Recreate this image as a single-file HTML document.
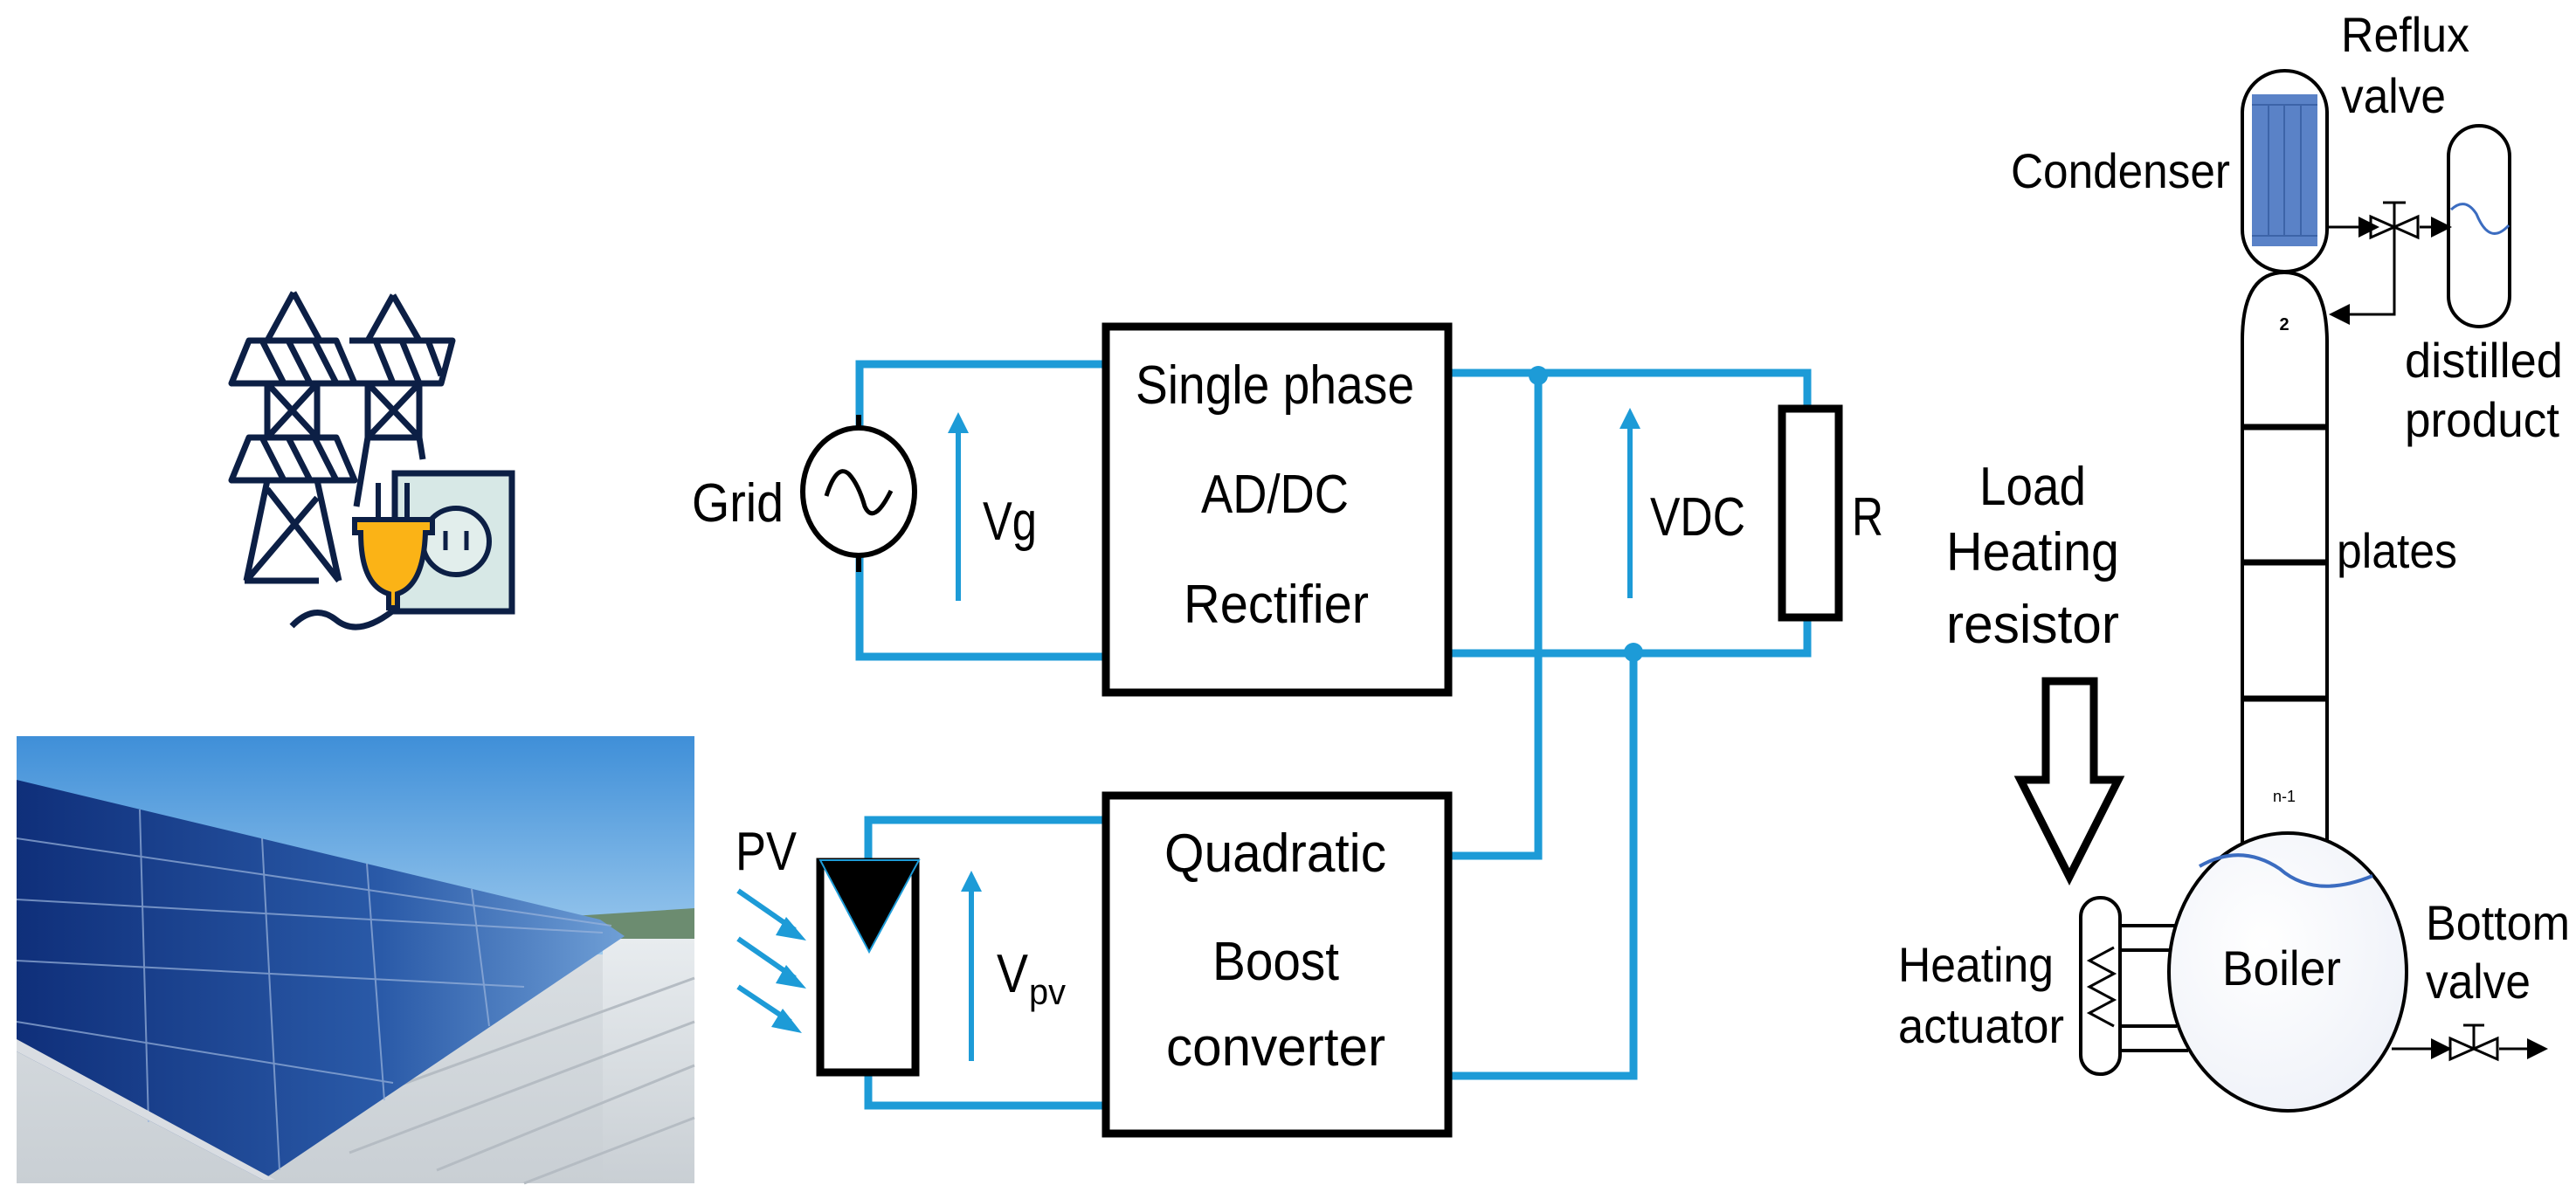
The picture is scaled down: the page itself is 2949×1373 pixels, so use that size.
<!DOCTYPE html>
<html><head><meta charset="utf-8"><style>
html,body{margin:0;padding:0;background:#fff}
svg{display:block}
text{font-family:"Liberation Sans",sans-serif;fill:#000}
</style></head><body>
<svg width="2949" height="1373" viewBox="0 0 2949 1373" xmlns="http://www.w3.org/2000/svg">
<defs>
<linearGradient id="sky" x1="0" y1="0" x2="0" y2="1"><stop offset="0" stop-color="#3f8fd8"/><stop offset="1" stop-color="#9fcbee"/></linearGradient>
<linearGradient id="pan" x1="0" y1="0" x2="1" y2="0"><stop offset="0" stop-color="#0f2f7a"/><stop offset="0.6" stop-color="#2a5aa8"/><stop offset="1" stop-color="#6f9fd6"/></linearGradient>
<linearGradient id="roof" x1="0" y1="0" x2="0" y2="1"><stop offset="0" stop-color="#e8ecef"/><stop offset="1" stop-color="#c9cfd4"/></linearGradient>
<radialGradient id="boil" cx="0.4" cy="0.4" r="0.7"><stop offset="0" stop-color="#ffffff"/><stop offset="1" stop-color="#eef1f8"/></radialGradient>
<marker id="ah" markerWidth="8" markerHeight="8" refX="4" refY="4" orient="auto"><path d="M0,0 L8,4 L0,8z" fill="#000"/></marker>
</defs>

<!-- solar photo -->
<rect x="19" y="843" width="776" height="512" fill="url(#roof)"/>
<rect x="19" y="843" width="776" height="250" fill="url(#sky)"/>
<polygon points="640,1050 795,1040 795,1075 700,1075" fill="#6c8c70"/>
<rect x="690" y="1075" width="105" height="280" fill="url(#roof)"/>
<g stroke="#b5bcc3" stroke-width="3">
<line x1="300" y1="1300" x2="795" y2="1120"/><line x1="400" y1="1320" x2="795" y2="1170"/><line x1="500" y1="1340" x2="795" y2="1220"/><line x1="600" y1="1355" x2="795" y2="1280"/>
</g>
<polygon points="19,893 687,1053 715,1072 301,1351 19,1204" fill="url(#pan)"/>
<g stroke="#9ab4dc" stroke-width="2" opacity="0.7">
<line x1="160" y1="927" x2="170" y2="1285"/><line x1="300" y1="960" x2="320" y2="1340"/>
<line x1="420" y1="989" x2="440" y2="1260"/><line x1="540" y1="1018" x2="560" y2="1175"/>
<line x1="19" y1="960" x2="700" y2="1060"/><line x1="19" y1="1030" x2="690" y2="1068"/><line x1="19" y1="1100" x2="600" y2="1130"/><line x1="19" y1="1170" x2="450" y2="1240"/>
</g>
<polygon points="19,1204 301,1351 315,1351 19,1190" fill="#d9dde2"/>

<!-- pylon icon -->
<g stroke="#0c1f45" stroke-width="7" fill="none" stroke-linejoin="round">
<path d="M336,335 L306,390 M336,335 L366,390"/>
<path d="M265,439 L406,439 L385,390 L285,390 Z M300,390 L325,439 M330,390 L355,439 M360,390 L385,439"/>
<path d="M306,439 L306,501 L363,501 L363,439 M306,439 L363,501 M363,439 L306,501"/>
<path d="M265,550 L406,550 L385,501 L285,501 Z M300,501 L325,550 M330,501 L355,550 M360,501 L385,550"/>
<path d="M306,550 L282,665 M363,550 L388,665 M282,665 L363,570 M306,560 L388,665 M280,665 L365,665"/>
<path d="M450,338 L421,390 M450,338 L480,390"/>
<path d="M400,390 L518,390 L505,439 L405,439 M430,390 L450,439 M460,390 L480,439 M490,390 L505,430"/>
<path d="M421,439 L421,501 L480,501 L480,439 M421,439 L480,501 M480,439 L421,501 M421,501 L408,580 M480,501 L484,526"/>
<path d="M334,717 Q360,690 385,710 Q410,730 449,700"/>
</g>
<rect x="452" y="542" width="134" height="158" fill="#d7e8e6" stroke="#0c1f45" stroke-width="7"/>
<circle cx="522" cy="620" r="38" fill="#e2eeec" stroke="#0c1f45" stroke-width="6"/>
<line x1="510" y1="608" x2="510" y2="630" stroke="#0c1f45" stroke-width="5"/><line x1="534" y1="608" x2="534" y2="630" stroke="#0c1f45" stroke-width="5"/>
<path d="M406,595 L495,595 L495,610 L487,610 Q485,670 455,680 L455,696 L445,696 L445,680 Q413,670 413,610 L406,610 Z" fill="#fbb316" stroke="#0c1f45" stroke-width="6"/>
<line x1="433" y1="553" x2="433" y2="595" stroke="#0c1f45" stroke-width="6"/><line x1="466" y1="553" x2="466" y2="595" stroke="#0c1f45" stroke-width="6"/>

<!-- blue wires -->
<g stroke="#1d9bd7" stroke-width="9" fill="none">
<path d="M984,490 L984,417 L1262,417"/>
<path d="M984,636 L984,752 L1262,752"/>
<path d="M1662,427 L2069,427 L2069,470"/>
<path d="M1662,748 L2069,748 L2069,705"/>
<path d="M1761,427 L1761,980 L1662,980"/>
<path d="M1870,748 L1870,1232 L1662,1232"/>
<path d="M994,985 L994,939 L1262,939"/>
<path d="M994,1230 L994,1266 L1262,1266"/>
</g>
<circle cx="1761" cy="430" r="11" fill="#1d9bd7"/>
<circle cx="1870" cy="747" r="11" fill="#1d9bd7"/>
<g stroke="#1d9bd7" stroke-width="6"><line x1="1097" y1="688" x2="1097" y2="490"/><line x1="1866" y1="685" x2="1866" y2="485"/><line x1="1112" y1="1215" x2="1112" y2="1015"/></g>
<g fill="#1d9bd7"><path d="M1085,496 L1097,472 L1109,496Z"/><path d="M1854,491 L1866,467 L1878,491Z"/><path d="M1100,1021 L1112,997 L1124,1021Z"/></g>
<g stroke="#1d9bd7" stroke-width="6"><line x1="845" y1="1020" x2="910" y2="1065"/><line x1="845" y1="1075" x2="910" y2="1120"/><line x1="845" y1="1130" x2="905" y2="1170"/></g>
<g fill="#1d9bd7"><path d="M900,1050 L923,1077 L888,1071Z"/><path d="M900,1105 L923,1132 L888,1126Z"/><path d="M896,1155 L918,1183 L883,1176Z"/></g>

<!-- grid source -->
<line x1="983" y1="475" x2="983" y2="655" stroke="#000" stroke-width="6"/>
<ellipse cx="983" cy="563" rx="64" ry="73" fill="#fff" stroke="#000" stroke-width="6"/>
<path d="M946,568 Q958,530 972,543 Q983,555 990,580 Q1000,602 1020,562" stroke="#000" stroke-width="5" fill="none"/>

<!-- boxes -->
<rect x="1266" y="374" width="392" height="419" fill="#fff" stroke="#000" stroke-width="9"/>
<rect x="1266" y="911" width="392" height="387" fill="#fff" stroke="#000" stroke-width="9"/>
<rect x="2040" y="468" width="65" height="239" fill="#fff" stroke="#000" stroke-width="9"/>
<rect x="939" y="987" width="109" height="241" fill="#fff" stroke="#000" stroke-width="9"/>
<path d="M939,985 L1052,985 L995,1090 Z" fill="#000" stroke="#1d9bd7" stroke-width="2"/>

<!-- text circuit -->
<g font-size="62">
<text x="792" y="597" textLength="105" lengthAdjust="spacingAndGlyphs">Grid</text>
<text x="1125" y="618" textLength="62" lengthAdjust="spacingAndGlyphs">Vg</text>
<text x="1300" y="462" textLength="319" lengthAdjust="spacingAndGlyphs">Single phase</text>
<text x="1375" y="587" textLength="169" lengthAdjust="spacingAndGlyphs">AD/DC</text>
<text x="1355" y="713" textLength="212" lengthAdjust="spacingAndGlyphs">Rectifier</text>
<text x="1889" y="613" textLength="109" lengthAdjust="spacingAndGlyphs">VDC</text>
<text x="2120" y="613" textLength="36" lengthAdjust="spacingAndGlyphs">R</text>
<text x="842" y="996" textLength="70" lengthAdjust="spacingAndGlyphs">PV</text>
<text x="1141" y="1136" textLength="36" lengthAdjust="spacingAndGlyphs">V</text>
<text x="1178" y="1150" font-size="42" textLength="42" lengthAdjust="spacingAndGlyphs">pv</text>
<text x="1333" y="998" textLength="254" lengthAdjust="spacingAndGlyphs">Quadratic</text>
<text x="1388" y="1122" textLength="145" lengthAdjust="spacingAndGlyphs">Boost</text>
<text x="1335" y="1220" textLength="251" lengthAdjust="spacingAndGlyphs">converter</text>
<text x="2266" y="578" textLength="122" lengthAdjust="spacingAndGlyphs">Load</text>
<text x="2228" y="653" textLength="198" lengthAdjust="spacingAndGlyphs">Heating</text>
<text x="2228" y="736" textLength="198" lengthAdjust="spacingAndGlyphs">resistor</text>
</g>
<g font-size="56">
<text x="2680" y="59" textLength="147" lengthAdjust="spacingAndGlyphs">Reflux</text>
<text x="2680" y="129" textLength="120" lengthAdjust="spacingAndGlyphs">valve</text>
<text x="2302" y="215" textLength="251" lengthAdjust="spacingAndGlyphs">Condenser</text>
<text x="2753" y="432" textLength="181" lengthAdjust="spacingAndGlyphs">distilled</text>
<text x="2753" y="500" textLength="177" lengthAdjust="spacingAndGlyphs">product</text>
<text x="2675" y="650" textLength="138" lengthAdjust="spacingAndGlyphs">plates</text>
<text x="2173" y="1124" textLength="178" lengthAdjust="spacingAndGlyphs">Heating</text>
<text x="2173" y="1194" textLength="190" lengthAdjust="spacingAndGlyphs">actuator</text>
<text x="2777" y="1076" textLength="165" lengthAdjust="spacingAndGlyphs">Bottom</text>
<text x="2777" y="1143" textLength="120" lengthAdjust="spacingAndGlyphs">valve</text>
</g>
<!-- hollow arrow -->
<path d="M2342,780 L2397,780 L2397,893 L2425,893 L2369,1004 L2313,893 L2342,893 Z" fill="#fff" stroke="#000" stroke-width="9" stroke-linejoin="miter"/>
<!-- column -->
<g stroke="#000" stroke-width="4" fill="none">
<path d="M2567,965 L2567,390 Q2567,312 2615,312 Q2663,312 2664,390 L2664,965"/>
<rect x="2567" y="81" width="97" height="230" rx="48" ry="48" fill="#fff"/>
<rect x="2803" y="144" width="70" height="230" rx="35" ry="35" fill="#fff"/>
</g>
<rect x="2578" y="108" width="75" height="174" fill="#5a82c7"/>
<g stroke="#3d64a8" stroke-width="2"><line x1="2578" y1="120" x2="2653" y2="120"/><line x1="2578" y1="270" x2="2653" y2="270"/><line x1="2597" y1="120" x2="2597" y2="270"/><line x1="2615" y1="120" x2="2615" y2="270"/><line x1="2634" y1="120" x2="2634" y2="270"/></g>
<path d="M2806,240 Q2822,225 2835,245 Q2850,282 2872,258" stroke="#3b6cc0" stroke-width="3" fill="none"/>
<g stroke="#000" stroke-width="7"><line x1="2565" y1="489" x2="2666" y2="489"/><line x1="2565" y1="644" x2="2666" y2="644"/><line x1="2565" y1="800" x2="2666" y2="800"/></g>
<text x="2615" y="378" font-size="20" font-weight="bold" text-anchor="middle">2</text>
<text x="2615" y="918" font-size="18" text-anchor="middle">n-1</text>
<g stroke="#000" stroke-width="3" fill="none">
<line x1="2664" y1="260" x2="2712" y2="260" marker-end="url(#ah)"/>
<path d="M2714,248 L2714,272 L2741,260 Z M2768,248 L2768,272 L2741,260 Z"/>
<line x1="2741" y1="260" x2="2741" y2="233"/><line x1="2728" y1="232" x2="2754" y2="232"/>
<line x1="2770" y1="260" x2="2795" y2="260" marker-end="url(#ah)"/>
<path d="M2741,260 L2741,360 L2678,360" marker-end="url(#ah)"/>
</g>
<!-- boiler -->
<g stroke="#000" stroke-width="4" fill="none">
<line x1="2427" y1="1060" x2="2495" y2="1060"/><line x1="2427" y1="1088" x2="2490" y2="1088"/><line x1="2427" y1="1175" x2="2492" y2="1175"/><line x1="2427" y1="1203" x2="2505" y2="1203"/>
</g>
<ellipse cx="2619" cy="1113" rx="136" ry="159" fill="url(#boil)" stroke="#000" stroke-width="4"/>
<path d="M2518,992 Q2565,965 2610,995 Q2650,1030 2716,1003" stroke="#3b6cc0" stroke-width="4" fill="none"/>
<text x="2544" y="1128" font-size="56" textLength="136" lengthAdjust="spacingAndGlyphs">Boiler</text>
<rect x="2382" y="1028" width="45" height="202" rx="22" ry="22" fill="#fff" stroke="#000" stroke-width="4"/>
<path d="M2420,1085 L2392,1100 L2420,1115 L2392,1130 L2420,1145 L2392,1160 L2420,1175" stroke="#000" stroke-width="3" fill="none"/>
<g stroke="#000" stroke-width="3" fill="none">
<line x1="2738" y1="1201" x2="2795" y2="1201" marker-end="url(#ah)"/>
<path d="M2805,1189 L2805,1213 L2832,1201 Z M2859,1189 L2859,1213 L2832,1201 Z"/>
<line x1="2832" y1="1201" x2="2832" y2="1175"/><line x1="2820" y1="1174" x2="2844" y2="1174"/>
<line x1="2861" y1="1201" x2="2905" y2="1201" marker-end="url(#ah)"/>
</g>
</svg>
</body></html>
